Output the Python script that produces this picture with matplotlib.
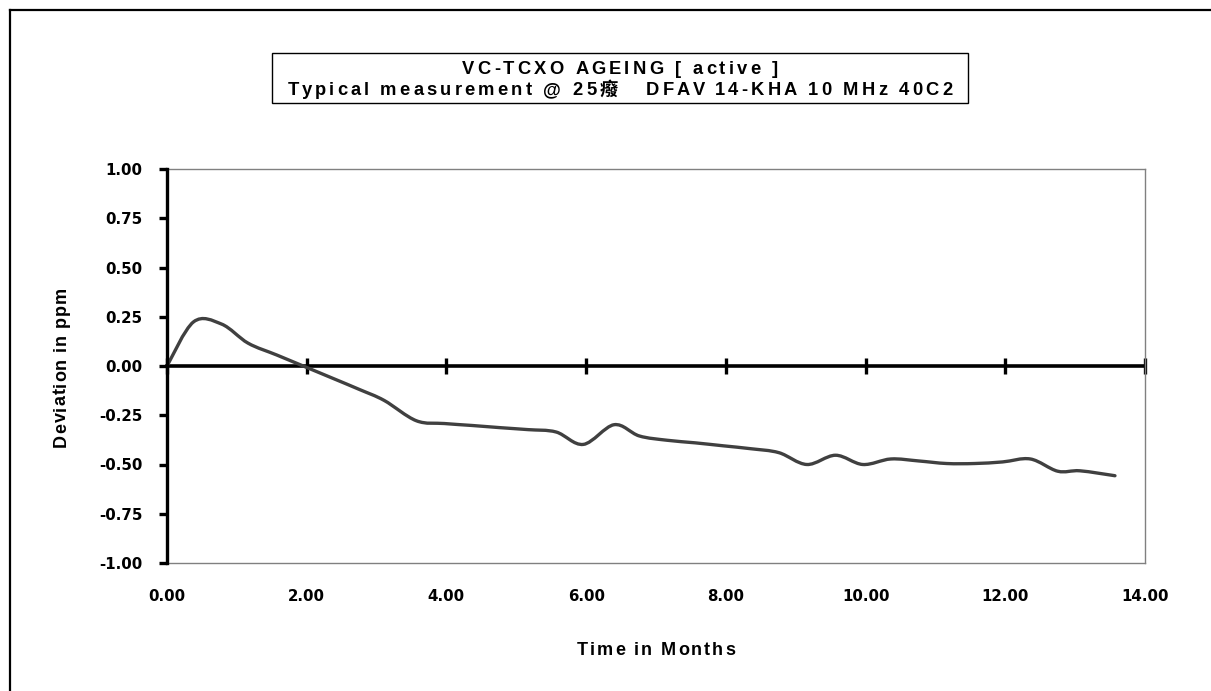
import matplotlib
matplotlib.use("Agg")
import matplotlib.pyplot as plt
from matplotlib.font_manager import FontProperties
from matplotlib.path import Path
from matplotlib.patches import PathPatch, Rectangle
from matplotlib.lines import Line2D
import numpy as np

# ---------------- data ----------------
months = [0.00, 0.38, 0.78, 1.16, 1.57, 1.97, 2.37, 2.76, 3.11, 3.57,
          3.97, 4.37, 4.77, 5.17, 5.57, 5.96, 6.40, 6.76, 7.16, 7.56,
          7.96, 8.36, 8.76, 9.16, 9.57, 9.96, 10.36, 10.76, 11.16, 11.56,
          11.96, 12.36, 12.75, 13.07, 13.57]
deviation = [0.000, 0.224, 0.213, 0.116, 0.056, -0.003, -0.062, -0.120, -0.175, -0.278,
             -0.292, -0.302, -0.313, -0.323, -0.335, -0.398, -0.298, -0.355, -0.377, -0.390,
             -0.405, -0.420, -0.440, -0.500, -0.453, -0.500, -0.472, -0.482, -0.495, -0.495,
             -0.487, -0.472, -0.534, -0.532, -0.557]
x_ticks = [0, 2, 4, 6, 8, 10, 12, 14]
x_ticklabels = ["0.00", "2.00", "4.00", "6.00", "8.00", "10.00", "12.00", "14.00"]
y_ticks = [-1.0, -0.75, -0.5, -0.25, 0.0, 0.25, 0.5, 0.75, 1.0]
y_ticklabels = ["-1.00", "-0.75", "-0.50", "-0.25", "0.00", "0.25", "0.50", "0.75", "1.00"]
title_line1 = "VC-TCXO AGEING [ active ]"
title_line2 = "Typical measurement @ 25癈   DFAV 14-KHA 10 MHz 40C2"
x_label = "Time in Months"
y_label = "Deviation in ppm"

# ---------------- figure ----------------
W, H = 1211, 691
fig = plt.figure(figsize=(W / 100, H / 100), dpi=100)
fig.patch.set_facecolor("white")
renderer = fig.canvas.get_renderer()

def fx(px):
    return px / W

def fy(py):
    return 1 - py / H

# outer frame (left and top edges visible)
fig.add_artist(Line2D([fx(9.5), fx(9.5)], [0, fy(9.5)], color="black", lw=1.6))
fig.add_artist(Line2D([fx(9.5), 1], [fy(9.5), fy(9.5)], color="black", lw=1.6))

# axes
ax = fig.add_axes([fx(167), fy(563), (1145 - 167) / W, (563 - 169) / H])
ax.set_xlim(0, 14)
ax.set_ylim(-1, 1)
for side in ("top", "right", "bottom"):
    ax.spines[side].set_color("#808080")
    ax.spines[side].set_linewidth(1.0)
ax.spines["left"].set_color("black")
ax.spines["left"].set_linewidth(2.4)
ax.spines["left"].set_zorder(5)

tick_font = {"family": "DejaVu Sans", "weight": "bold", "size": 10.8}
ax.set_xticks(x_ticks)
ax.set_xticklabels(x_ticklabels, fontdict=tick_font)
ax.set_yticks(y_ticks)
ax.set_yticklabels(y_ticklabels, fontdict=tick_font)
ax.tick_params(axis="x", length=0, pad=19)
ax.tick_params(axis="y", direction="out", length=5.5, width=2.4, color="black", pad=12)

# zero line with crossing ticks
sec = ax.secondary_xaxis(0.5)
sec.set_xticks(x_ticks)
sec.set_xticklabels([])
sec.tick_params(axis="x", direction="inout", length=11, width=2.4, color="black",
                labelbottom=False, labeltop=False)
for sp in sec.spines.values():
    sp.set_linewidth(2.6)
    sp.set_color("black")

# smoothed series line (cubic Bezier through the data points)
xs = np.array(months, dtype=float)
ys = np.array(deviation, dtype=float)
n = len(xs)
verts = [(xs[0], ys[0])]
codes = [Path.MOVETO]
for i in range(n - 1):
    i0 = max(i - 1, 0)
    i3 = min(i + 2, n - 1)
    c1 = (xs[i] + (xs[i + 1] - xs[i0]) / 6.0, ys[i] + (ys[i + 1] - ys[i0]) / 6.0)
    c2 = (xs[i + 1] - (xs[i3] - xs[i]) / 6.0, ys[i + 1] - (ys[i3] - ys[i]) / 6.0)
    verts += [c1, c2, (xs[i + 1], ys[i + 1])]
    codes += [Path.CURVE4, Path.CURVE4, Path.CURVE4]
ax.add_patch(PathPatch(Path(verts, codes), facecolor="none", edgecolor="#404040",
                       lw=2.4, capstyle="round", joinstyle="round", zorder=4))

# ---------------- letter-spaced text helper ----------------
def spaced_text(s, x_px, y_px, spacing, prop, rotation=0):
    def w(t):
        return renderer.get_text_width_height_descent(t, prop, ismath=False)[0]
    wx = w("x")
    offs = [0.0] + [w(s[:i] + "x") - wx for i in range(1, len(s))]
    total = w(s) + spacing * (len(s) - 1)
    start = -total / 2.0
    for i, ch in enumerate(s):
        if ch == " ":
            continue
        d = start + offs[i] + i * spacing
        if rotation == 0:
            px, py = x_px + d, y_px
        else:
            px, py = x_px, y_px - d
        fig.text(fx(px), fy(py), ch, fontproperties=prop, rotation=rotation,
                 rotation_mode="anchor", ha="left", va="baseline")

title_prop = FontProperties(family=["Liberation Sans", "Noto Sans CJK SC"],
                            weight="bold", size=13.2)
label_prop = FontProperties(family=["Liberation Sans"], weight="bold", size=13)

# title box
fig.add_artist(Rectangle((fx(272), fy(103)), (968 - 272) / W, 50 / H,
                         transform=fig.transFigure, facecolor="white",
                         edgecolor="black", lw=1.0))
spaced_text(title_line1, 620, 74.5, 3.2, title_prop)
spaced_text(title_line2, 620, 95, 3.2, title_prop)

# axis labels
spaced_text(x_label, 656, 655, 2.0, label_prop)
spaced_text(y_label, 66, 367, 1.0, label_prop, rotation=90)

fig.savefig("out.png", dpi=100, facecolor="white")
